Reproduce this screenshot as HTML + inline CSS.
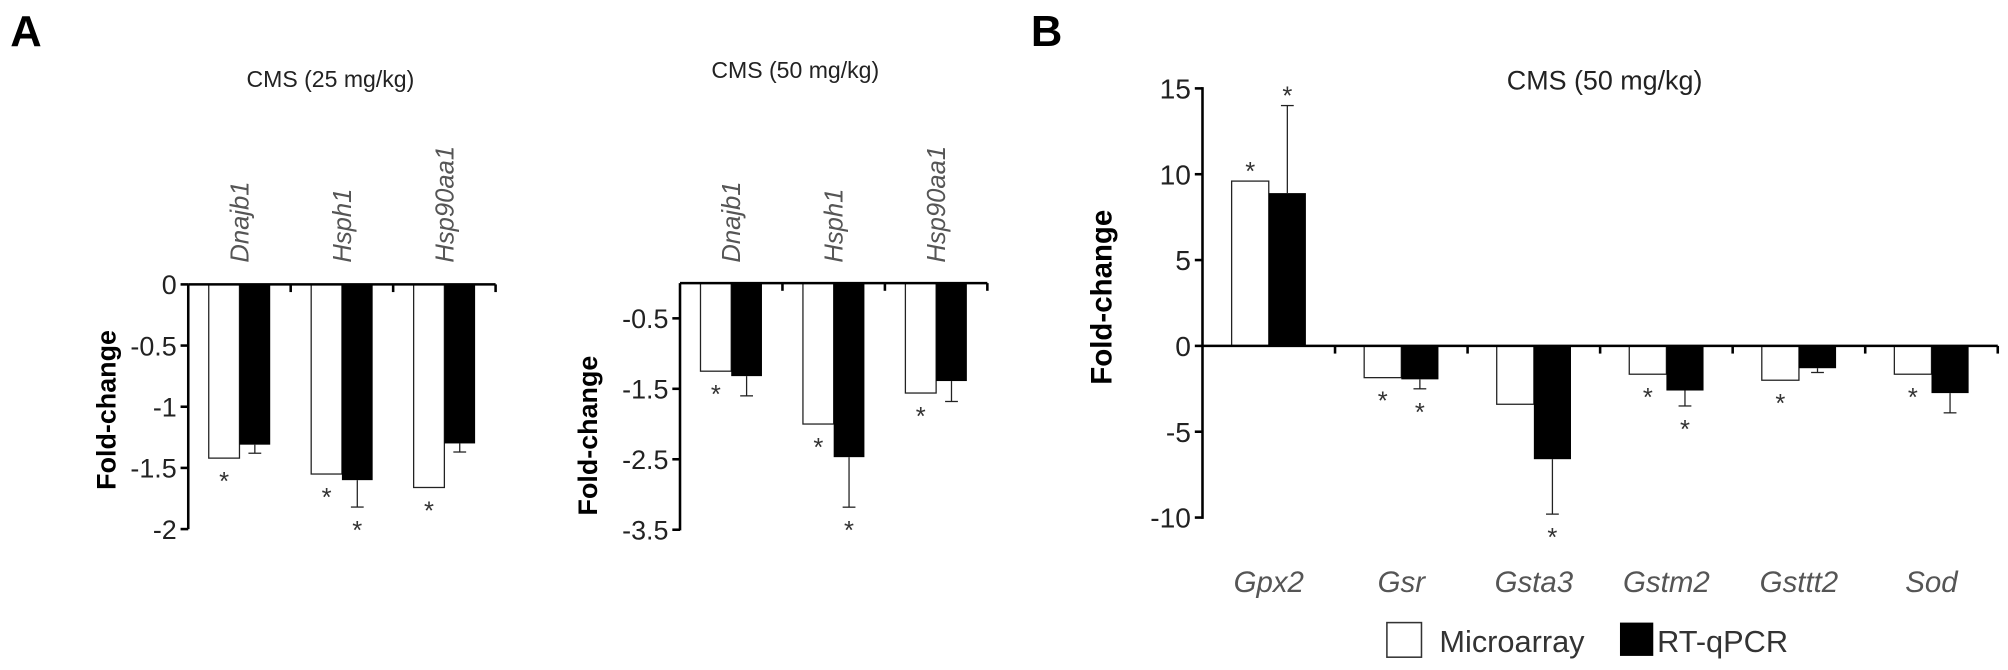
<!DOCTYPE html>
<html><head><meta charset="utf-8"><style>
html,body{margin:0;padding:0;background:#fff;}
svg{display:block;}
text{font-family:"Liberation Sans",Arial,sans-serif;}
</style></head><body>
<svg id="fig" width="2008" height="670" viewBox="0 0 1568 523" preserveAspectRatio="none" xmlns="http://www.w3.org/2000/svg">
<text x="8" y="36" font-size="34" font-weight="bold">A</text>
<text x="805" y="36" font-size="34" font-weight="bold">B</text>
<text x="258" y="68" font-size="18" text-anchor="middle" fill="#222">CMS (25 mg/kg)</text>
<text x="621" y="61" font-size="18" text-anchor="middle" fill="#222">CMS (50 mg/kg)</text>
<text x="1253" y="70" font-size="21" text-anchor="middle" fill="#222">CMS (50 mg/kg)</text>
<text transform="translate(90,320) rotate(-90)" font-size="21" font-weight="bold" text-anchor="middle">Fold-change</text>
<text transform="translate(466,340) rotate(-90)" font-size="21" font-weight="bold" text-anchor="middle">Fold-change</text>
<text transform="translate(868,232) rotate(-90)" font-size="23" font-weight="bold" text-anchor="middle">Fold-change</text>
<g>
<rect x="1083" y="486" width="27" height="27" fill="#fff" stroke="#333" stroke-width="1.2"/>
<text x="1124" y="509" font-size="24" fill="#333">Microarray</text>
<rect x="1265" y="486" width="26" height="26" fill="#000"/>
<text x="1294" y="509" font-size="24" fill="#333">RT-qPCR</text>
</g>
</svg>
<script>
// Panel A1: CMS 25 mg/kg
const a1Categories = ["Dnajb1","Hsph1","Hsp90aa1"];
const a1Micro = [-1.42,-1.55,-1.66];
const a1Qpcr = [-1.31,-1.6,-1.3];
const a1QpcrErr = [0.07,0.22,0.07];
const a1MicroSig = [true,true,true];
const a1QpcrSig = [false,true,false];
const a1Ticks = [0,-0.5,-1,-1.5,-2];
const a1TickLabels = ["0","-0.5","-1","-1.5","-2"];
// Panel A2: CMS 50 mg/kg
const a2Categories = ["Dnajb1","Hsph1","Hsp90aa1"];
const a2Micro = [-1.25,-2.0,-1.56];
const a2Qpcr = [-1.32,-2.47,-1.39];
const a2QpcrErr = [0.28,0.71,0.29];
const a2MicroSig = [true,true,true];
const a2QpcrSig = [false,true,false];
const a2Ticks = [-0.5,-1.5,-2.5,-3.5];
const a2TickLabels = ["-0.5","-1.5","-2.5","-3.5"];
// Panel B
const bCategories = ["Gpx2","Gsr","Gsta3","Gstm2","Gsttt2","Sod"];
const bMicro = [9.6,-1.85,-3.4,-1.65,-2.0,-1.65];
const bQpcr = [8.9,-1.95,-6.6,-2.6,-1.3,-2.75];
const bQpcrErr = [5.1,0.55,3.2,0.9,0.25,1.15];
const bMicroSig = [true,true,false,true,true,true];
const bQpcrSig = [true,true,true,true,false,false];
const bTicks = [15,10,5,0,-5,-10];
const bTickLabels = ["15","10","5","0","-5","-10"];

const NS="http://www.w3.org/2000/svg";
const svg=document.getElementById('fig');
function mk(tag,attrs){const e=document.createElementNS(NS,tag);for(const k in attrs)e.setAttribute(k,attrs[k]);svg.appendChild(e);return e;}

function panel(cfg){
  const y=v=>cfg.y0 - cfg.k*v;
  const xs=i=>cfg.x0 + cfg.gw*(i+0.5);
  const n=cfg.cats.length;
  cfg.cats.forEach((c,i)=>{
    const cx=xs(i);
    const ym=y(cfg.micro[i]);
    let r=mk('rect',{x:cx-cfg.bw,y:Math.min(ym,y(0)),width:cfg.bw,height:Math.abs(ym-y(0)),fill:'#fff',stroke:'#222','stroke-width':1});
    
    
    const yq=y(cfg.qpcr[i]);
    r=mk('rect',{x:cx,y:Math.min(yq,y(0)),width:cfg.bw,height:Math.abs(yq-y(0)),fill:'#000'});
    
    
    const sgn=cfg.qpcr[i]<0?-1:1;
    const ye=y(cfg.qpcr[i]+sgn*cfg.err[i]);
    const ex=cx+cfg.bw/2;
    let l=mk('line',{x1:ex,x2:ex,y1:yq,y2:ye,stroke:'#222','stroke-width':1});
    
    
    l=mk('line',{x1:ex-5,x2:ex+5,y1:ye,y2:ye,stroke:'#222','stroke-width':1});
    
    
    const off=cfg.starOff;
    if(cfg.msig[i]){
      const sy=cfg.micro[i]<0?ym+off+6:ym-off+6;
      const t=mk('text',{x:cx-cfg.bw/2,y:sy+6,'font-size':cfg.sfs,'text-anchor':'middle',fill:'#333'});
      t.textContent='*';
      
      
    }
    if(cfg.qsig[i]){
      const sy=cfg.qpcr[i]<0?ye+off+6:ye-off+6;
      const t=mk('text',{x:ex,y:sy+6,'font-size':cfg.sfs,'text-anchor':'middle',fill:'#333'});
      t.textContent='*';
      
      
    }
    let t;
    if(cfg.rot){
      t=mk('text',{transform:`translate(${cx+7},${cfg.labY}) rotate(-90)`,'font-size':cfg.lfs,'font-style':'italic',fill:'#555'});
    } else {
      t=mk('text',{x:cx,y:cfg.labY,'font-size':cfg.lfs,'font-style':'italic','text-anchor':'middle',fill:'#555'});
    }
    t.textContent=c;
    
    
  });
  const xEnd=cfg.x0+cfg.gw*n;
  let a=mk('line',{x1:cfg.x0,x2:cfg.x0,y1:cfg.yTop,y2:cfg.yBot,stroke:'#000','stroke-width':2});
  
  
  a=mk('line',{x1:cfg.x0,x2:xEnd,y1:y(0),y2:y(0),stroke:'#000','stroke-width':2});
  
  
  for(let i=1;i<=n;i++){
    a=mk('line',{x1:cfg.x0+cfg.gw*i,x2:cfg.x0+cfg.gw*i,y1:y(0),y2:y(0)+6,stroke:'#000','stroke-width':2});
    
    
  }
  cfg.ticks.forEach((v,i)=>{
    let l=mk('line',{x1:cfg.x0-6,x2:cfg.x0,y1:y(v),y2:y(v),stroke:'#000','stroke-width':2});
    
    
    const t=mk('text',{x:cfg.x0-9,y:y(v)+cfg.tfs*0.36,'font-size':cfg.tfs,'text-anchor':'end',fill:'#222'});
    t.textContent=cfg.tickLabels[i];
    
    
  });
}
panel({id:'a1',cats:a1Categories,micro:a1Micro,qpcr:a1Qpcr,err:a1QpcrErr,msig:a1MicroSig,qsig:a1QpcrSig,ticks:a1Ticks,tickLabels:a1TickLabels,
  x0:147,gw:80,bw:24,y0:222,k:95.5,yTop:222,yBot:413,rot:true,labY:205,lfs:20,tfs:21,sfs:20,starOff:13});
panel({id:'a2',cats:a2Categories,micro:a2Micro,qpcr:a2Qpcr,err:a2QpcrErr,msig:a2MicroSig,qsig:a2QpcrSig,ticks:a2Ticks,tickLabels:a2TickLabels,
  x0:531,gw:80,bw:24,y0:221,k:55,yTop:221,yBot:414,rot:true,labY:205,lfs:20,tfs:21,sfs:20,starOff:13});
panel({id:'b',cats:bCategories,micro:bMicro,qpcr:bQpcr,err:bQpcrErr,msig:bMicroSig,qsig:bQpcrSig,ticks:bTicks,tickLabels:bTickLabels,
  x0:939,gw:103.5,bw:29,y0:270,k:13.4,yTop:68,yBot:405,rot:false,labY:462,lfs:23,tfs:22,sfs:20,starOff:13});
</script>
</body></html>
